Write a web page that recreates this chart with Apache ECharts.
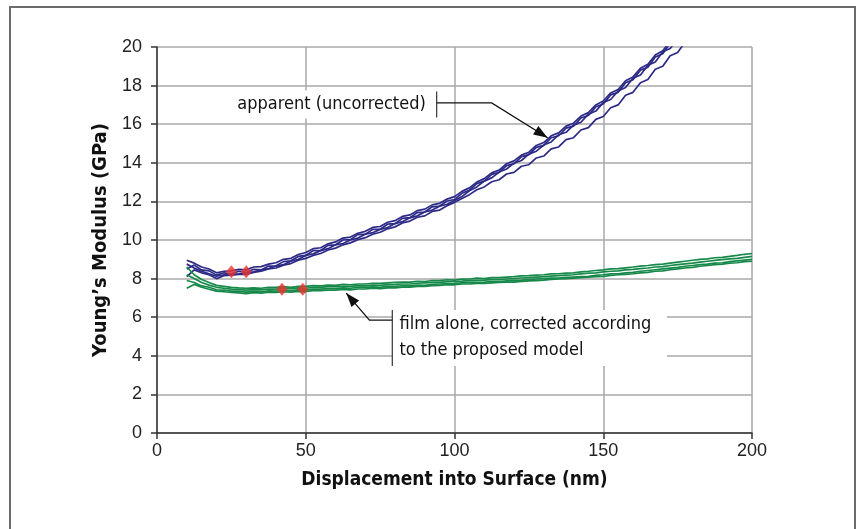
<!DOCTYPE html>
<html>
<head>
<meta charset="utf-8">
<script src="https://cdn.jsdelivr.net/npm/echarts@6/dist/echarts.min.js"></script>
<style>
  html, body { margin: 0; padding: 0; background: #fff; }
  #main { width: 859px; height: 529px; }
</style>
</head>
<body>
<div id="main"></div>
<script>
// 位移 (nm)
const blueX = [10, 12.5, 15, 17.5, 20, 22.5, 25, 27.5, 30, 32.5, 35, 37.5, 40, 42.5, 45, 47.5, 50, 52.5, 55, 57.5,
  60, 62.5, 65, 67.5, 70, 72.5, 75, 77.5, 80, 82.5, 85, 87.5, 90, 92.5, 95, 97.5,
  100, 102.5, 105, 107.5, 110, 112.5, 115, 117.5, 120, 122.5, 125, 127.5, 130, 132.5, 135, 137.5,
  140, 142.5, 145, 147.5, 150, 152.5, 155, 157.5, 160, 162.5, 165, 167.5, 170, 172.5, 175, 177.5, 180];
const greenX = [10, 12.5, 15, 17.5, 20, 22.5, 25, 27.5, 30, 32.5, 35, 37.5, 40, 42.5, 45, 47.5, 50, 52.5, 55, 57.5,
  60, 62.5, 65, 67.5, 70, 72.5, 75, 77.5, 80, 82.5, 85, 87.5, 90, 92.5, 95, 97.5, 100, 102.5, 105, 107.5,
  110, 112.5, 115, 117.5, 120, 122.5, 125, 127.5, 130, 132.5, 135, 137.5, 140, 142.5, 145, 147.5, 150, 152.5, 155, 157.5,
  160, 162.5, 165, 167.5, 170, 172.5, 175, 177.5, 180, 182.5, 185, 187.5, 190, 192.5, 195, 197.5, 200];

// 表观模量 (未修正) - 四条测试曲线
const blueA = [8.95, 8.8, 8.6, 8.5, 8.3, 8.38, 8.4, 8.48, 8.45, 8.6, 8.62, 8.75, 8.82, 9.0, 9.05, 9.25, 9.35, 9.55,
  9.6, 9.8, 9.9, 10.1, 10.15, 10.35, 10.45, 10.65, 10.7, 10.92, 11.0, 11.22, 11.3, 11.52, 11.6, 11.82, 11.9, 12.12,
  12.25, 12.52, 12.7, 13.0, 13.18, 13.48, 13.62, 13.95, 14.1, 14.4, 14.55, 14.9, 15.05, 15.4, 15.55, 15.9, 16.05,
  16.42, 16.6, 17.0, 17.2, 17.62, 17.8, 18.25, 18.45, 18.9, 19.1, 19.58, 19.8, 20.3, 20.5, 21.0, 21.2];
const blueB = [8.5, 8.7, 8.45, 8.4, 8.18, 8.3, 8.25, 8.38, 8.32, 8.48, 8.45, 8.65, 8.66, 8.88, 8.92, 9.15, 9.2, 9.45,
  9.46, 9.72, 9.75, 10.0, 10.02, 10.28, 10.3, 10.55, 10.56, 10.82, 10.85, 11.12, 11.16, 11.42, 11.45, 11.72, 11.76, 12.02,
  12.1, 12.42, 12.58, 12.92, 13.05, 13.4, 13.5, 13.85, 13.95, 14.32, 14.42, 14.8, 14.9, 15.3, 15.4, 15.8, 15.9,
  16.32, 16.45, 16.9, 17.05, 17.52, 17.65, 18.15, 18.3, 18.8, 18.95, 19.48, 19.65, 20.2, 20.35, 20.9, 21.05];
const blueC = [8.75, 8.55, 8.38, 8.25, 8.12, 8.2, 8.22, 8.25, 8.3, 8.35, 8.45, 8.52, 8.65, 8.72, 8.9, 9.0, 9.2, 9.28,
  9.45, 9.55, 9.75, 9.82, 10.0, 10.1, 10.3, 10.38, 10.55, 10.65, 10.85, 10.95, 11.15, 11.25, 11.45, 11.55, 11.75, 11.85,
  12.05, 12.25, 12.55, 12.75, 13.05, 13.22, 13.52, 13.68, 13.98, 14.12, 14.45, 14.6, 14.92, 15.08, 15.45, 15.58, 15.95,
  16.1, 16.52, 16.68, 17.12, 17.28, 17.72, 17.9, 18.38, 18.55, 19.05, 19.22, 19.75, 19.92, 20.45, 20.62, 21.15];
const blueD = [8.1, 8.45, 8.3, 8.2, 8.0, 8.15, 8.18, 8.22, 8.22, 8.32, 8.38, 8.5, 8.55, 8.7, 8.78, 8.95, 9.05, 9.2,
  9.3, 9.48, 9.58, 9.75, 9.85, 10.02, 10.12, 10.3, 10.4, 10.58, 10.68, 10.88, 10.98, 11.18, 11.25, 11.48, 11.55, 11.78,
  11.95, 12.15, 12.35, 12.6, 12.75, 13.02, 13.12, 13.42, 13.5, 13.82, 13.9, 14.25, 14.35, 14.72, 14.82, 15.2, 15.3,
  15.7, 15.82, 16.25, 16.4, 16.85, 17.0, 17.5, 17.65, 18.15, 18.32, 18.85, 19.0, 19.55, 19.72, 20.25, 20.4];

// 薄膜模量 (按模型修正)
const greenA = [8.6, 8.2, 7.95, 7.8, 7.65, 7.6, 7.55, 7.52, 7.5, 7.52,
  7.5, 7.55, 7.55, 7.58, 7.55, 7.6, 7.6, 7.64, 7.62, 7.66,
  7.65, 7.7, 7.68, 7.72, 7.72, 7.76, 7.75, 7.78, 7.8, 7.82,
  7.82, 7.86, 7.85, 7.9, 7.9, 7.94, 7.92, 7.97, 7.98, 8.02,
  8.0, 8.05, 8.05, 8.08, 8.1, 8.14, 8.15, 8.18, 8.2, 8.24,
  8.25, 8.28, 8.3, 8.35, 8.38, 8.42, 8.45, 8.5, 8.52, 8.56,
  8.6, 8.65, 8.68, 8.72, 8.75, 8.8, 8.85, 8.9, 8.95, 9.0,
  9.02, 9.08, 9.1, 9.15, 9.2, 9.26, 9.3];
const greenB = [8.2, 8.0, 7.8, 7.66, 7.55, 7.5, 7.45, 7.44, 7.4, 7.43,
  7.42, 7.46, 7.45, 7.5, 7.48, 7.52, 7.5, 7.55, 7.55, 7.58,
  7.58, 7.6, 7.6, 7.64, 7.62, 7.66, 7.65, 7.69, 7.7, 7.72,
  7.72, 7.76, 7.78, 7.8, 7.8, 7.84, 7.85, 7.87, 7.9, 7.91,
  7.92, 7.95, 7.95, 7.98, 8.0, 8.03, 8.05, 8.08, 8.1, 8.13,
  8.15, 8.18, 8.2, 8.24, 8.28, 8.3, 8.35, 8.38, 8.4, 8.45,
  8.48, 8.52, 8.55, 8.6, 8.62, 8.68, 8.72, 8.76, 8.8, 8.85,
  8.9, 8.94, 8.98, 9.02, 9.05, 9.1, 9.15];
const greenC = [7.9, 7.8, 7.62, 7.55, 7.42, 7.4, 7.35, 7.35, 7.3, 7.34,
  7.32, 7.36, 7.35, 7.4, 7.38, 7.42, 7.4, 7.45, 7.45, 7.48,
  7.48, 7.52, 7.5, 7.55, 7.55, 7.57, 7.55, 7.6, 7.6, 7.63,
  7.62, 7.66, 7.65, 7.7, 7.72, 7.74, 7.75, 7.78, 7.8, 7.8,
  7.82, 7.85, 7.85, 7.88, 7.9, 7.92, 7.95, 7.98, 8.0, 8.02,
  8.02, 8.06, 8.08, 8.1, 8.12, 8.17, 8.2, 8.24, 8.25, 8.3,
  8.32, 8.38, 8.42, 8.46, 8.5, 8.54, 8.58, 8.64, 8.68, 8.72,
  8.75, 8.8, 8.82, 8.88, 8.92, 8.96, 9.0];
const greenD = [7.5, 7.7, 7.55, 7.45, 7.35, 7.32, 7.28, 7.26, 7.22, 7.27,
  7.25, 7.3, 7.28, 7.32, 7.3, 7.34, 7.33, 7.38, 7.38, 7.4,
  7.4, 7.44, 7.42, 7.46, 7.46, 7.5, 7.48, 7.52, 7.52, 7.56,
  7.56, 7.6, 7.6, 7.64, 7.65, 7.68, 7.68, 7.72, 7.72, 7.75,
  7.75, 7.78, 7.8, 7.82, 7.82, 7.86, 7.88, 7.9, 7.92, 7.96,
  7.98, 8.0, 8.02, 8.05, 8.08, 8.1, 8.12, 8.16, 8.2, 8.22,
  8.25, 8.3, 8.32, 8.38, 8.4, 8.46, 8.5, 8.55, 8.58, 8.64,
  8.68, 8.72, 8.75, 8.8, 8.82, 8.88, 8.9];

// 红色菱形标记
const redX = [25, 30, 42, 49];
const redY = [8.35, 8.35, 7.45, 7.45];

// 刻度
const xTicks = [0, 50, 100, 150, 200];
const yTicks = [0, 2, 4, 6, 8, 10, 12, 14, 16, 18, 20];

const BLUE = '#2c2a86';
const GREEN = '#16894a';
const NARROW = '"Liberation Sans Narrow", "DejaVu Sans Condensed", "Liberation Sans", sans-serif';
const TICKFONT = '"Liberation Sans", Arial, sans-serif';

function pairs(xs, ys) {
    return ys.map((y, i) => [xs[i], y]);
}

function traceSeries(xs, ys, color) {
    return {
        type: 'line',
        data: pairs(xs, ys),
        showSymbol: false,
        symbol: 'none',
        lineStyle: { color: color, width: 1.7 },
        clip: true,
        silent: true,
        z: 3
    };
}

let myChart = echarts.init(document.getElementById('main'));

let option = {
    animation: false,
    backgroundColor: '#fff',
    grid: {
        left: 157,
        right: 107,
        top: 47,
        bottom: 96
    },
    xAxis: {
        type: 'value',
        min: xTicks[0],
        max: xTicks[xTicks.length - 1],
        interval: 50,
        name: 'Displacement into Surface (nm)',
        nameLocation: 'middle',
        nameGap: 38,
        nameTextStyle: {
            fontFamily: NARROW,
            fontWeight: 'bold',
            fontSize: 19,
            color: '#111'
        },
        axisLine: { lineStyle: { color: '#333', width: 1.5 } },
        axisTick: { show: true, inside: false, length: 6, lineStyle: { color: '#333', width: 1.5 } },
        axisLabel: { fontFamily: TICKFONT, fontSize: 18, color: '#222', margin: 9 },
        splitLine: { show: true, lineStyle: { color: '#a8a8a8', width: 1.5 } }
    },
    yAxis: {
        type: 'value',
        min: yTicks[0],
        max: yTicks[yTicks.length - 1],
        interval: 2,
        name: 'Young\u2019s Modulus (GPa)',
        nameLocation: 'middle',
        nameGap: 46,
        nameTextStyle: {
            fontFamily: NARROW,
            fontWeight: 'bold',
            fontSize: 20,
            color: '#111'
        },
        axisLine: { show: true, lineStyle: { color: '#333', width: 1.5 } },
        axisTick: { show: true, inside: false, length: 6, lineStyle: { color: '#333', width: 1.5 } },
        axisLabel: { fontFamily: TICKFONT, fontSize: 18, color: '#222', margin: 15 },
        splitLine: { show: true, lineStyle: { color: '#a8a8a8', width: 1.5 } }
    },
    series: [
        traceSeries(blueX, blueA, BLUE),
        traceSeries(blueX, blueB, BLUE),
        traceSeries(blueX, blueC, BLUE),
        traceSeries(blueX, blueD, BLUE),
        traceSeries(greenX, greenA, GREEN),
        traceSeries(greenX, greenB, GREEN),
        traceSeries(greenX, greenC, GREEN),
        traceSeries(greenX, greenD, GREEN),
        {
            type: 'scatter',
            data: pairs(redX, redY),
            symbol: 'diamond',
            symbolSize: [11, 13],
            itemStyle: { color: '#e8352f' },
            silent: true,
            z: 5
        }
    ]
};
myChart.setOption(option);

// 注释 (数据坐标 -> 像素)
function px(x, y) {
    return myChart.convertToPixel({ gridIndex: 0 }, [x, y]);
}

function arrowHead(from, tip) {
    let dx = tip[0] - from[0];
    let dy = tip[1] - from[1];
    let len = Math.sqrt(dx * dx + dy * dy);
    let ux = dx / len, uy = dy / len;
    let bx = tip[0] - ux * 14, by = tip[1] - uy * 14;
    return [tip, [bx - uy * 5, by + ux * 5], [bx + uy * 5, by - ux * 5]];
}

function box(x1, y1, x2, y2) {
    let a = px(x1, y1), b = px(x2, y2);
    return {
        type: 'rect',
        shape: { x: a[0], y: a[1], width: b[0] - a[0], height: b[1] - a[1] },
        style: { fill: '#fff' },
        z: 1
    };
}

function label(text, x, y) {
    let p = px(x, y);
    return {
        type: 'text',
        x: p[0],
        y: p[1],
        style: {
            text: text,
            font: '18px ' + NARROW,
            fill: '#111',
            textVerticalAlign: 'middle'
        },
        z: 10
    };
}

function seg(pts, color) {
    return {
        type: 'polyline',
        shape: { points: pts },
        style: { stroke: color, lineWidth: 1.3, fill: null },
        z: 10
    };
}

let aBend = px(112.5, 17.1);
let aTip = px(131.3, 15.3);
let fBend = px(71.4, 5.85);
let fTip = px(63.6, 7.25);

myChart.setOption({
    graphic: [
        {
            type: 'rect',
            shape: { x: 10, y: 7, width: 845, height: 540 },
            style: { fill: null, stroke: '#6b6b6b', lineWidth: 2 },
            z: 0
        },
        box(25.5, 17.75, 94, 16.3),
        label('apparent (uncorrected)', 27, 17.05),
        seg([px(94, 17.7), px(94, 16.35)], '#444'),
        seg([px(94, 17.1), aBend, aTip], '#111'),
        { type: 'polygon', shape: { points: arrowHead(aBend, aTip) }, style: { fill: '#111' }, z: 10 },

        box(79.1, 6.37, 171.4, 3.47),
        label('film alone, corrected according', 81.5, 5.62),
        label('to the proposed model', 81.5, 4.28),
        seg([px(79.1, 6.37), px(79.1, 3.47)], '#444'),
        seg([px(79.1, 5.85), fBend, fTip], '#111'),
        { type: 'polygon', shape: { points: arrowHead(fBend, fTip) }, style: { fill: '#111' }, z: 10 }
    ]
});
</script>
</body>
</html>
